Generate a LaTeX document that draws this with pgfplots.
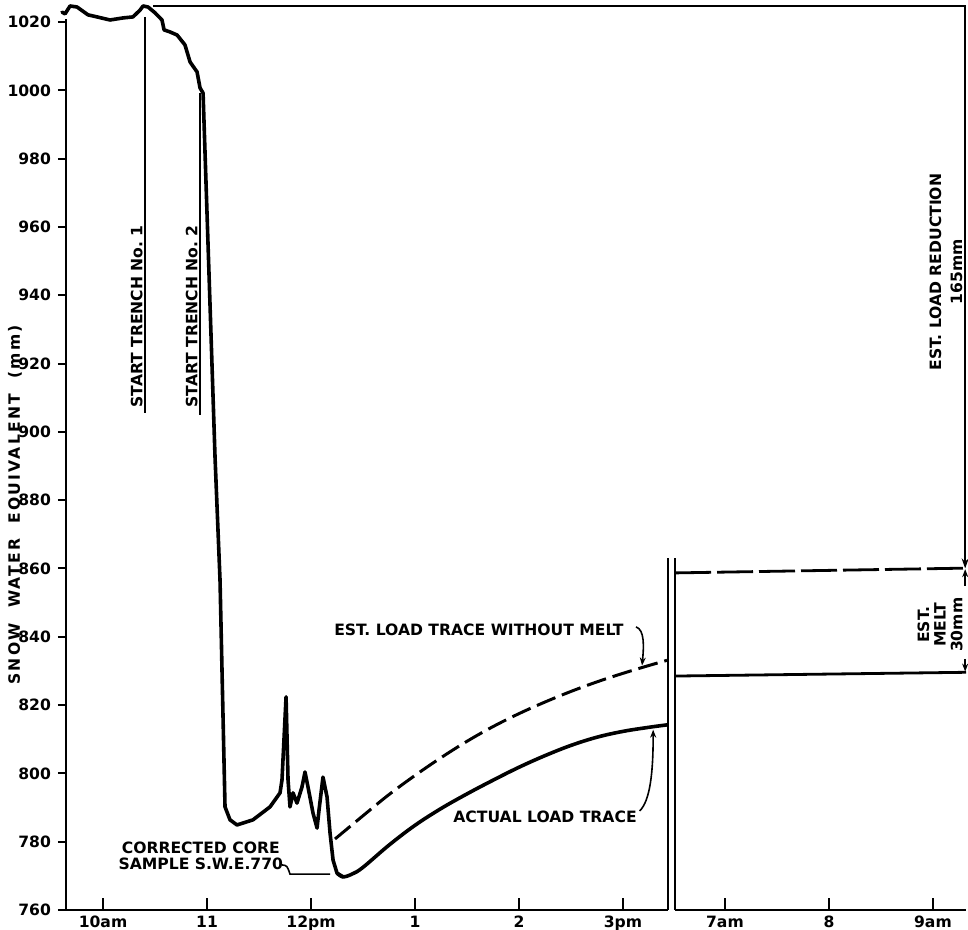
\documentclass[border=0pt]{standalone}
\usepackage{pgfplots}
\pgfplotsset{compat=1.18}
\usepackage{fontspec}
\setmainfont{DejaVu Sans}
\newfontfamily\ylabfont[LetterSpace=14]{DejaVu Sans}
\usetikzlibrary{arrows.meta}

\begin{document}
\begin{tikzpicture}
\useasboundingbox (-33pt,-10pt) rectangle (451pt,455pt);
\begin{axis}[
  at={(0,0)}, anchor=south west,
  scale only axis, width=450pt, height=452pt,
  xmin=9.644, xmax=18.298, ymin=760, ymax=1024.7,
  axis line style={draw=none},
  clip=false,
  ytick={760,780,...,1020},
  tick align=outside,
  tick pos=left,
  major tick length=4pt,
  ytick style={line width=1pt, black},
  xtick={10,11,12,13,14,15,15.98,16.98,17.98},
  xticklabels={10am,11,12pm,1,2,3pm,7am,8,9am},
  xtick style={draw=none},
  xticklabel style={yshift=4.5pt},
  tick label style={font=\fontsize{7.8}{9}\selectfont\bfseries},
  /pgf/number format/assume math mode=true,
  /pgf/number format/1000 sep={},
]
% actual load trace (wiggly part)
\addplot[line width=1.8pt, line join=round, line cap=round] coordinates {
(9.606,1022.9) (9.635,1022.4) (9.683,1024.7) (9.750,1024.4) (9.856,1022.1)
(9.942,1021.5) (10.067,1020.6) (10.192,1021.2) (10.288,1021.5) (10.356,1023.5)
(10.385,1024.7) (10.433,1024.4) (10.500,1022.7) (10.567,1020.6) (10.587,1017.7)
(10.644,1017.1) (10.712,1016.2) (10.788,1013.3) (10.837,1008.3) (10.904,1005.4)
(10.933,1000.7) (10.962,999.2) (11.077,892.6) (11.125,856.6) (11.173,790.2)
(11.221,786.4) (11.288,784.9) (11.442,786.4) (11.606,790.2) (11.702,794.3)
(11.721,798.1) (11.760,822.4) (11.779,798.1) (11.798,790.2) (11.827,794.3)
(11.865,791.3) (11.913,796.0) (11.942,800.4) (11.971,796.0) (12.019,788.4)
(12.058,784.0) (12.077,789.3) (12.115,798.9) (12.154,793.1) (12.183,782.5)
(12.212,774.6) (12.250,770.8) (12.308,769.7)
};
% actual load trace (smooth recovery)
\addplot[line width=1.8pt, smooth, tension=0.6, line cap=round] coordinates {
(12.250,770.8) (12.308,769.7) (12.40,770.6) (12.50,772.5) (12.75,779.0) (13.00,784.8)
(13.25,789.7) (13.50,794.0) (13.75,798.0) (14.00,801.8) (14.25,805.2)
(14.50,808.2) (14.75,810.6) (15.00,812.3) (15.25,813.5) (15.423,814.2)
};
% estimated load trace without melt
\addplot[line width=1.5pt, smooth, tension=0.6, dash pattern=on 10pt off 3.5pt] coordinates {
(12.231,780.8) (12.50,787.6) (12.75,793.8) (13.00,799.4) (13.25,804.6)
(13.50,809.4) (13.75,813.7) (14.00,817.5) (14.25,820.9) (14.50,824.0)
(14.75,826.8) (15.00,829.3) (15.25,831.6) (15.423,833.1)
};
% next morning
\addplot[line width=1.4pt] coordinates {(15.50,828.5) (18.298,829.6)};
\addplot[line width=1.4pt, dash pattern=on 18pt off 3pt] coordinates {(15.50,858.7) (18.298,860.1)};

% frame
\draw[line width=1.2pt] (axis cs:9.644,760) -- (axis cs:9.644,1021);
\draw[line width=1.2pt] (axis cs:9.644,760) -- (axis cs:15.433,760);
\draw[line width=1.2pt] (axis cs:15.50,760) -- (axis cs:18.298,760);
\draw[line width=1.2pt] (axis cs:15.433,760) -- (axis cs:15.433,863);
\draw[line width=1.2pt] (axis cs:15.50,760) -- (axis cs:15.50,863);
\draw[line width=1.1pt] (axis cs:10.481,1024.7) -- (axis cs:18.298,1024.7);
\pgfplotsinvokeforeach{10,11,12,13,14,15,15.98,16.98,17.98}{
  \draw[line width=1pt] (axis cs:#1,760) -- (axis cs:#1,763.5);
}
% right-edge dimension lines
\draw[line width=1.1pt, -{Stealth[length=5pt,width=3.5pt]}] (axis cs:18.29,1024.7) -- (axis cs:18.29,860);
\draw[line width=1pt, -{Stealth[length=4pt,width=3pt]}] (axis cs:18.29,855) -- (axis cs:18.29,859.8);
\draw[line width=1pt, -{Stealth[length=4pt,width=3pt]}] (axis cs:18.29,833.5) -- (axis cs:18.29,829.8);

% trench markers
\draw[line width=1.2pt] (axis cs:10.404,1021.5) -- (axis cs:10.404,905.6);
\draw[line width=1.2pt] (axis cs:10.933,999.2) -- (axis cs:10.933,904.9);

\tikzset{lab/.style={font=\fontsize{7.8}{9}\selectfont\bfseries, inner sep=1pt}}
\node[lab, rotate=90, anchor=south west] at (axis cs:10.404,906.4) {START TRENCH No.\ 1};
\node[lab, rotate=90, anchor=south west] at (axis cs:10.933,906.4) {START TRENCH No.\ 2};

\node[lab, rotate=90] at (axis cs:9.154,878.6) {\ylabfont\bfseries SNOW\ \ WATER\ \ EQUIVALENT\ \ (mm)};

\node[lab, align=center, font=\fontsize{7.8}{8.2}\selectfont\bfseries] at (axis cs:10.94,775.9) {CORRECTED CORE\\SAMPLE S.W.E.770};
\draw[line width=0.8pt] (axis cs:11.721,773.2) .. controls (axis cs:11.77,773.0) .. (axis cs:11.798,770.5) -- (axis cs:12.183,770.5);

\node[lab] at (axis cs:13.615,842) {EST. LOAD TRACE WITHOUT MELT};
\draw[line width=0.8pt, -{Stealth[length=4pt,width=3pt]}] (axis cs:15.125,842.9) .. controls (axis cs:15.21,842.0) and (axis cs:15.20,837) .. (axis cs:15.183,831.6);

\node[lab] at (axis cs:14.25,787.2) {ACTUAL LOAD TRACE};
\draw[line width=0.8pt, -{Stealth[length=4pt,width=3pt]}] (axis cs:15.16,789) .. controls (axis cs:15.26,792) and (axis cs:15.29,800) .. (axis cs:15.29,812.8);

\node[lab, rotate=90, align=center, font=\fontsize{7.8}{10.5}\selectfont\bfseries] at (axis cs:18.106,946.8) {EST. LOAD REDUCTION\\165mm};
\node[lab, rotate=90, align=center, font=\fontsize{7.8}{8.3}\selectfont\bfseries] at (axis cs:18.048,843.5) {EST.\\MELT\\30mm};
\end{axis}
\end{tikzpicture}
\end{document}
